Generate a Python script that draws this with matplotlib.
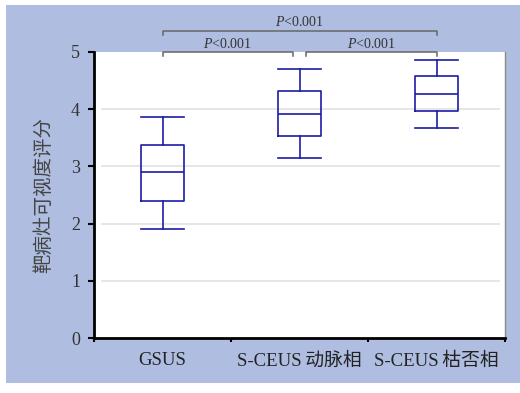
import matplotlib
matplotlib.use("Agg")
import matplotlib.pyplot as plt
from matplotlib.patches import Rectangle

# Box summary per group: lower whisker, Q1, median, Q3, upper whisker
categories = ["GSUS", "S-CEUS\u2009动脉相", "S-CEUS\u2009枯否相"]
whisker_low = [1.91, 3.14, 3.67]
q1 = [2.40, 3.53, 3.96]
median = [2.90, 3.91, 4.27]
q3 = [3.37, 4.31, 4.57]
whisker_high = [3.86, 4.69, 4.86]
y_ticks = [0, 1, 2, 3, 4, 5]
p_label = "<0.001"

plt.rcParams["mathtext.fontset"] = "custom"
plt.rcParams["mathtext.it"] = "Liberation Serif:italic"
plt.rcParams["mathtext.rm"] = "Liberation Serif"

BG = "#AEBDE0"
BOX = "#1C1CA6"
TXT = "#333333"
serif_cjk = ["Liberation Serif", "Noto Sans CJK SC"]

fig = plt.figure(figsize=(5.2, 3.93), dpi=100)
fig.patch.set_facecolor("white")
fig.patches.append(Rectangle((6 / 520, 10 / 393), 514 / 520, 378 / 393,
                             transform=fig.transFigure, facecolor=BG,
                             edgecolor="none", zorder=-10))

ax = fig.add_axes([94 / 520, 1 - 338.3 / 393, 411 / 520, (338.3 - 51.7) / 393])
ax.set_zorder(1)
ax.set_facecolor("white")

stats = []
for i in range(len(categories)):
    stats.append(dict(whislo=whisker_low[i], q1=q1[i], med=median[i],
                      q3=q3[i], whishi=whisker_high[i], fliers=[]))
ax.bxp(stats, positions=range(len(categories)), widths=0.31,
       showfliers=False, patch_artist=False,
       boxprops=dict(color=BOX, linewidth=1.2),
       whiskerprops=dict(color=BOX, linewidth=1.2),
       capprops=dict(color=BOX, linewidth=1.2),
       medianprops=dict(color=BOX, linewidth=1.2),
       capwidths=0.31, zorder=3)

# light horizontal guides
ax.hlines([t for t in y_ticks if 0 < t < 5], -0.45, 2.46,
          color="#E2E2E2", linewidth=1.2, zorder=1)

ax.set_xlim(-0.5, 2.5)
ax.set_ylim(0, 5)
ax.set_yticks(y_ticks)
ax.set_yticklabels([str(t) for t in y_ticks], fontfamily="Liberation Serif",
                   fontsize=13, color=TXT)
ax.set_xticks([-0.5, 0.5, 1.5, 2.5])
ax.set_xticklabels([])
ax.set_xticks(range(len(categories)), minor=True)
ax.set_xticklabels(categories, minor=True, fontsize=13.5, color="#222222",
                   family=serif_cjk)
ax.tick_params(axis="x", which="minor", length=0, pad=10)
ax.tick_params(axis="x", which="major", length=3, width=1.5, direction="out")
ax.tick_params(axis="y", length=4, width=1.5, direction="out", pad=6)

for s in ("left", "bottom"):
    ax.spines[s].set_linewidth(2)
    ax.spines[s].set_color("black")
ax.spines["top"].set_visible(False)
ax.spines["right"].set_color("#8A8A8A")
ax.spines["right"].set_linewidth(1)

ax.set_ylabel("靶病灶可视度评分", family=["Noto Sans CJK SC"], fontsize=14,
              color="#444444", labelpad=12)


def bracket(x0, x1, y, drop, ty):
    ax.plot([x0, x0, x1, x1], [y - drop, y, y, y - drop], color="#666666",
            linewidth=1.1, clip_on=False, zorder=4)
    ax.text((x0 + x1) / 2, ty, r"$\it{P}$" + p_label, ha="center",
            va="center", fontsize=10, color=TXT, family="Liberation Serif",
            clip_on=False)


bracket(0, 0.95, 4.99, 0.07, 5.14)
bracket(1.05, 2, 4.99, 0.07, 5.14)
bracket(0, 2, 5.36, 0.07, 5.52)

fig.savefig("out.png", dpi=100, facecolor=fig.get_facecolor())
